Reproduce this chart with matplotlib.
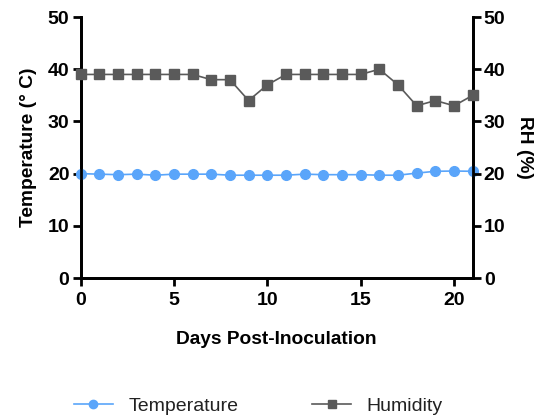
import numpy as np
import matplotlib
matplotlib.use("Agg")
import matplotlib.pyplot as plt
from matplotlib.lines import Line2D

plt.rcParams['font.family'] = ['Liberation Sans', 'DejaVu Sans']

days = np.arange(0, 22)
temperature = [20.0, 19.9, 19.8, 19.9, 19.7, 19.9, 19.9, 19.9, 19.7, 19.7, 19.7,
               19.7, 19.9, 19.8, 19.8, 19.8, 19.7, 19.7, 20.1, 20.45, 20.5, 20.45]
humidity = [39, 39, 39, 39, 39, 39, 39, 38, 38, 34, 37,
            39, 39, 39, 39, 39, 40, 37, 33, 34, 33, 35]

temp_color = '#5aa5fa'
hum_color = '#5a5a5a'

fig = plt.figure(figsize=(5.44, 4.15), dpi=100)
ax = fig.add_axes([0.148, 0.330, 0.721, 0.629])
ax2 = ax.twinx()

ax.plot(days, temperature, color=temp_color, marker='o', markersize=7,
        linewidth=1.2, clip_on=False, zorder=3)
ax2.plot(days, humidity, color=hum_color, marker='s', markersize=7,
         linewidth=1.2, clip_on=False, zorder=3)

for a in (ax, ax2):
    a.set_ylim(0, 50)
    a.set_yticks([0, 10, 20, 30, 40, 50])
    a.spines['top'].set_visible(False)
    for s in a.spines.values():
        s.set_linewidth(2)
    a.tick_params(width=2, length=6, labelsize=14, pad=2)
    for lab in a.get_yticklabels():
        lab.set_fontweight('bold')

ax.set_xlim(0, 21)
ax.set_xticks([0, 5, 10, 15, 20])
ax.tick_params(axis='x', pad=4)
for lab in ax.get_xticklabels():
    lab.set_fontweight('bold')

ax.set_xlabel('Days Post-Inoculation', fontsize=13.8, fontweight='bold', labelpad=16)
ax.set_ylabel('Temperature (° C)', fontsize=13.8, fontweight='bold', labelpad=8)
ax2.set_ylabel('RH (%)', fontsize=13.8, fontweight='bold', rotation=270, labelpad=20)

handles = [Line2D([], [], color=temp_color, marker='o', markersize=6, linewidth=1.2),
           Line2D([], [], color=hum_color, marker='s', markersize=6, linewidth=1.2)]
fig.legend(handles, ['Temperature', 'Humidity'], loc='lower center',
           bbox_to_anchor=(0.475, -0.042), ncol=2, frameon=False, fontsize=14,
           columnspacing=3.8, handlelength=2.0, labelcolor='#222222')

fig.savefig('out.png', dpi=100)
